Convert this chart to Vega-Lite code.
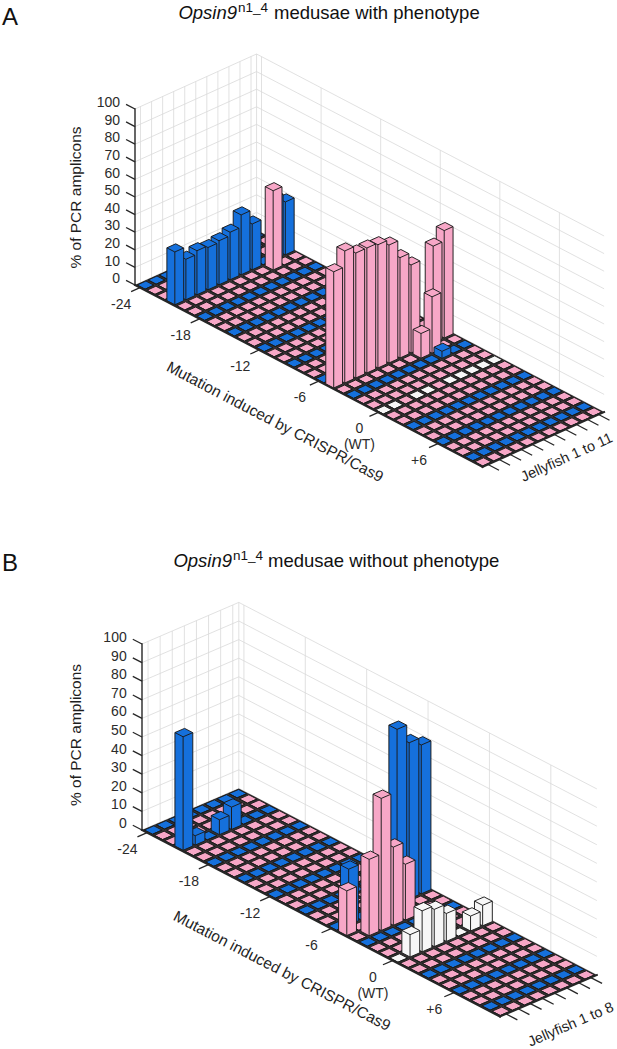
{
  "$schema": "https://vega.github.io/schema/vega-lite/v6.json",
  "width": 617,
  "height": 1049,
  "autosize": {"type": "none"},
  "padding": 0,
  "background": "white",
  "config": {"view": {"stroke": null}, "font": "Liberation Sans"},
  "params": [
    {
      "name": "G",
      "value": {
        "A": {"ox": 135, "oy": 285, "mx": 9.93, "my": 5.2, "jx": 11.05, "jy": 5, "zs": 1.76, "n": 11,
              "a": -8.39, "b": -0.08, "c": -0.45, "d": 4.08, "e": 8.39, "f": 0.08,
              "zt": [76, 197.5], "mt": [275, 422, 27.6], "jt": [567, 458, -24.3],
              "letter": [2, 25], "it": [237, 19], "sup": [238, 12], "rest": [274, 19]},
        "B": {"ox": 142, "oy": 830, "mx": 10.23, "my": 5.33, "jx": 12.1, "jy": 5.2, "zs": 1.86, "n": 8,
              "a": -8.93, "b": -0.05, "c": -0.75, "d": 4.21, "e": 8.93, "f": 0.05,
              "zt": [76, 735], "mt": [282, 971, 27.5], "jt": [571, 1025, -23.3],
              "letter": [2, 571], "it": [232, 567], "sup": [233, 560], "rest": [268, 567]}
      }
    }
  ],
  "datasets": {
    "panels": [{"p": "A"}, {"p": "B"}],
    "axes": [
      {"p": "A", "ax": "z"}, {"p": "A", "ax": "m"}, {"p": "A", "ax": "j"},
      {"p": "B", "ax": "z"}, {"p": "B", "ax": "m"}, {"p": "B", "ax": "j"}
    ],
    "ticks": [
      {"p": "A", "ax": "z", "v": [0, 10, 20, 30, 40, 50, 60, 70, 80, 90, 100]},
      {"p": "A", "ax": "m", "v": [-24, -18, -12, -6, 0, 6]},
      {"p": "A", "ax": "j", "v": [1, 2, 3, 4, 5, 6, 7, 8, 9, 10, 11]},
      {"p": "B", "ax": "z", "v": [0, 10, 20, 30, 40, 50, 60, 70, 80, 90, 100]},
      {"p": "B", "ax": "m", "v": [-24, -18, -12, -6, 0, 6]},
      {"p": "B", "ax": "j", "v": [1, 2, 3, 4, 5, 6, 7, 8]}
    ],
    "titles": [
      {"p": "A", "k": "zt", "t": "% of PCR amplicons"},
      {"p": "A", "k": "mt", "t": "Mutation induced by CRISPR/Cas9"},
      {"p": "A", "k": "jt", "t": "Jellyfish 1 to 11"},
      {"p": "B", "k": "zt", "t": "% of PCR amplicons"},
      {"p": "B", "k": "mt", "t": "Mutation induced by CRISPR/Cas9"},
      {"p": "B", "k": "jt", "t": "Jellyfish 1 to 8"},
      {"p": "A", "k": "letter", "t": "A"},
      {"p": "B", "k": "letter", "t": "B"},
      {"p": "A", "k": "it", "t": "Opsin9"},
      {"p": "B", "k": "it", "t": "Opsin9"},
      {"p": "A", "k": "sup", "t": "n1_4"},
      {"p": "B", "k": "sup", "t": "n1_4"},
      {"p": "A", "k": "rest", "t": "medusae with phenotype"},
      {"p": "B", "k": "rest", "t": "medusae without phenotype"}
    ],
    "cells": [
      {"p": "A", "m": -24, "v": [0,0,0,0,0,0,0,0,0,0,0]},
      {"p": "A", "m": -23, "v": [0,0,0,0,0,0,0,0,0,0,0]},
      {"p": "A", "m": -22, "v": [0,0,0,0,0,0,0,0,0,0,0]},
      {"p": "A", "m": -21, "v": [30,23,25,24,25,27,34,26,0,35,30]},
      {"p": "A", "m": -20, "v": [0,0,0,0,0,0,0,0,45,0,0]},
      {"p": "A", "m": -19, "v": [0,0,0,0,0,0,0,0,0,0,0]},
      {"p": "A", "m": -18, "v": [0,0,0,0,0,0,0,0,0,0,0]},
      {"p": "A", "m": -17, "v": [0,0,0,0,0,0,0,0,0,0,0]},
      {"p": "A", "m": -16, "v": [0,0,0,0,0,0,0,0,0,0,0]},
      {"p": "A", "m": -15, "v": [0,0,0,0,0,0,0,0,0,0,0]},
      {"p": "A", "m": -14, "v": [0,0,0,0,0,0,0,0,0,0,0]},
      {"p": "A", "m": -13, "v": [0,0,0,0,0,0,0,0,0,0,0]},
      {"p": "A", "m": -12, "v": [0,0,0,0,0,0,0,0,0,0,0]},
      {"p": "A", "m": -11, "v": [0,0,0,0,0,0,0,0,0,0,0]},
      {"p": "A", "m": -10, "v": [0,0,0,0,0,0,0,0,0,0,0]},
      {"p": "A", "m": -9, "v": [0,0,0,0,0,0,0,0,0,0,0]},
      {"p": "A", "m": -8, "v": [0,0,0,0,0,0,0,0,0,0,0]},
      {"p": "A", "m": -7, "v": [0,0,0,0,0,0,0,0,0,0,0]},
      {"p": "A", "m": -6, "v": [0,0,0,0,0,0,0,0,0,0,0]},
      {"p": "A", "m": -5, "v": [66,75,71,71,70,67,57,50,0,55,61]},
      {"p": "A", "m": -4, "v": [0,0,0,0,0,0,0,14,32,0,0]},
      {"p": "A", "m": -3, "v": [0,0,0,0,0,0,0,0,4,0,0]},
      {"p": "A", "m": -2, "v": [0,0,0,0,0,0,0,0,0,0,0]},
      {"p": "A", "m": -1, "v": [0,0,0,0,0,0,0,0,0,0,0]},
      {"p": "A", "m": 0, "v": [0,0,0,0,0,0,0,0,0,0,0], "wt": [1,1,0,1,1,0,1,1,1,1,1]},
      {"p": "A", "m": 1, "v": [0,0,0,0,0,0,0,0,0,0,0]},
      {"p": "A", "m": 2, "v": [0,0,0,0,0,0,0,0,0,0,0]},
      {"p": "A", "m": 3, "v": [0,0,0,0,0,0,0,0,0,0,0]},
      {"p": "A", "m": 4, "v": [0,0,0,0,0,0,0,0,0,0,0]},
      {"p": "A", "m": 5, "v": [0,0,0,0,0,0,0,0,0,0,0]},
      {"p": "A", "m": 6, "v": [0,0,0,0,0,0,0,0,0,0,0]},
      {"p": "A", "m": 7, "v": [0,0,0,0,0,0,0,0,0,0,0]},
      {"p": "A", "m": 8, "v": [0,0,0,0,0,0,0,0,0,0,0]},
      {"p": "A", "m": 9, "v": [0,0,0,0,0,0,0,0,0,0,0]},
      {"p": "A", "m": 10, "v": [0,0,0,0,0,0,0,0,0,0,0]},
      {"p": "B", "m": -24, "v": [0,0,0,0,0,0,0,0]},
      {"p": "B", "m": -23, "v": [0,0,0,0,0,0,0,0]},
      {"p": "B", "m": -22, "v": [0,0,0,0,0,0,0,0]},
      {"p": "B", "m": -21, "v": [61,5,0,8,12,0,0,0]},
      {"p": "B", "m": -20, "v": [0,0,0,0,0,0,0,0]},
      {"p": "B", "m": -19, "v": [0,0,0,0,0,0,0,0]},
      {"p": "B", "m": -18, "v": [0,0,0,0,0,0,0,0]},
      {"p": "B", "m": -17, "v": [0,0,0,0,0,0,0,0]},
      {"p": "B", "m": -16, "v": [0,0,0,0,0,0,0,0]},
      {"p": "B", "m": -15, "v": [0,0,0,0,0,0,0,0]},
      {"p": "B", "m": -14, "v": [0,0,0,0,0,0,0,0]},
      {"p": "B", "m": -13, "v": [0,0,0,0,0,0,0,0]},
      {"p": "B", "m": -12, "v": [0,0,0,0,0,0,0,0]},
      {"p": "B", "m": -11, "v": [0,0,0,0,0,0,0,0]},
      {"p": "B", "m": -10, "v": [0,0,0,0,0,0,0,0]},
      {"p": "B", "m": -9, "v": [0,0,0,0,0,0,0,0]},
      {"p": "B", "m": -8, "v": [0,0,0,0,0,0,0,0]},
      {"p": "B", "m": -7, "v": [0,0,0,0,0,0,0,0]},
      {"p": "B", "m": -6, "v": [0,30,0,0,0,94,84,80]},
      {"p": "B", "m": -5, "v": [24,0,0,0,0,0,0,0]},
      {"p": "B", "m": -4, "v": [0,41,71,42,30,0,0,0]},
      {"p": "B", "m": -3, "v": [0,0,0,0,0,0,0,0]},
      {"p": "B", "m": -2, "v": [0,0,0,0,0,0,0,0]},
      {"p": "B", "m": -1, "v": [0,0,0,0,0,0,0,0]},
      {"p": "B", "m": 0, "v": [0,12,22,20,15,0,8,11], "wt": [1,1,1,1,1,1,1,1]},
      {"p": "B", "m": 1, "v": [0,0,0,0,0,0,0,0]},
      {"p": "B", "m": 2, "v": [0,0,0,0,0,0,0,0]},
      {"p": "B", "m": 3, "v": [0,0,0,0,0,0,0,0]},
      {"p": "B", "m": 4, "v": [0,0,0,0,0,0,0,0]},
      {"p": "B", "m": 5, "v": [0,0,0,0,0,0,0,0]},
      {"p": "B", "m": 6, "v": [0,0,0,0,0,0,0,0]},
      {"p": "B", "m": 7, "v": [0,0,0,0,0,0,0,0]},
      {"p": "B", "m": 8, "v": [0,0,0,0,0,0,0,0]},
      {"p": "B", "m": 9, "v": [0,0,0,0,0,0,0,0]},
      {"p": "B", "m": 10, "v": [0,0,0,0,0,0,0,0]}
    ]
  },
  "encoding": {
    "x": {"field": "X", "type": "quantitative", "scale": {"domain": [0, 617], "nice": false, "zero": false}, "axis": null},
    "y": {"field": "Y", "type": "quantitative", "scale": {"domain": [0, 1049], "nice": false, "zero": false, "reverse": true}, "axis": null}
  },
  "layer": [
    {
      "data": {"name": "ticks"},
      "transform": [
        {"flatten": ["v"]},
        {"calculate": "G[datum.p]", "as": "g"},
        {"calculate": "datum.ax == 'm' ? datum.v : -24.5", "as": "M"},
        {"calculate": "datum.ax == 'j' ? datum.v : (datum.ax == 'm' ? datum.g.n + 0.5 : 0.5)", "as": "J"},
        {"calculate": "datum.ax == 'z' ? datum.v : 0", "as": "Z"},
        {"calculate": "datum.ax == 'j' ? datum.v : datum.g.n + 0.5", "as": "J2"},
        {"calculate": "datum.ax == 'z' ? datum.v : 100", "as": "Z2"},
        {"calculate": "datum.g.ox + (datum.M + 24.5) * datum.g.mx + (datum.J - 0.5) * datum.g.jx", "as": "X"},
        {"calculate": "datum.g.oy + (datum.M + 24.5) * datum.g.my - (datum.J - 0.5) * datum.g.jy - datum.Z * datum.g.zs", "as": "Y"},
        {"calculate": "datum.g.ox + (datum.M + 24.5) * datum.g.mx + (datum.J2 - 0.5) * datum.g.jx", "as": "X2"},
        {"calculate": "datum.g.oy + (datum.M + 24.5) * datum.g.my - (datum.J2 - 0.5) * datum.g.jy - datum.Z2 * datum.g.zs", "as": "Y2"}
      ],
      "mark": {"type": "rule", "color": "#d9d9d9", "strokeWidth": 0.8},
      "encoding": {"x2": {"field": "X2"}, "y2": {"field": "Y2"}}
    },
    {
      "data": {"name": "ticks"},
      "transform": [
        {"filter": "datum.ax == 'z'"},
        {"flatten": ["v"]},
        {"calculate": "G[datum.p]", "as": "g"},
        {"calculate": "datum.g.ox + (datum.g.n) * datum.g.jx", "as": "X"},
        {"calculate": "datum.g.oy - (datum.g.n) * datum.g.jy - datum.v * datum.g.zs", "as": "Y"},
        {"calculate": "datum.X + 35 * datum.g.mx", "as": "X2"},
        {"calculate": "datum.Y + 35 * datum.g.my", "as": "Y2"}
      ],
      "mark": {"type": "rule", "color": "#d9d9d9", "strokeWidth": 0.8},
      "encoding": {"x2": {"field": "X2"}, "y2": {"field": "Y2"}}
    },
    {
      "data": {"name": "panels"},
      "transform": [
        {"calculate": "G[datum.p]", "as": "g"},
        {"calculate": "datum.g.ox + datum.g.n * datum.g.jx", "as": "X"},
        {"calculate": "datum.g.oy - datum.g.n * datum.g.jy", "as": "Y"},
        {"calculate": "datum.X", "as": "X2"},
        {"calculate": "datum.Y - 100 * datum.g.zs", "as": "Y2"}
      ],
      "mark": {"type": "rule", "color": "#d9d9d9", "strokeWidth": 0.8},
      "encoding": {"x2": {"field": "X2"}, "y2": {"field": "Y2"}}
    },
    {
      "data": {"name": "panels"},
      "transform": [
        {"calculate": "G[datum.p]", "as": "g"},
        {"calculate": "datum.g.ox", "as": "X"},
        {"calculate": "datum.g.oy", "as": "Y"},
        {"calculate": "'M0,0L' + (35 * datum.g.mx) + ',' + (35 * datum.g.my) + 'L' + (35 * datum.g.mx + datum.g.n * datum.g.jx) + ',' + (35 * datum.g.my - datum.g.n * datum.g.jy) + 'L' + (datum.g.n * datum.g.jx) + ',' + (-datum.g.n * datum.g.jy) + 'Z'", "as": "path"}
      ],
      "mark": {"type": "point", "filled": true, "size": 4, "opacity": 1, "fill": "#363333", "strokeWidth": 0},
      "encoding": {"shape": {"field": "path", "type": "nominal", "scale": null}}
    },
    {
      "data": {"name": "cells"},
      "transform": [
        {"flatten": ["v"]},
        {"window": [{"op": "row_number", "as": "j"}], "groupby": ["p", "m"]},
        {"calculate": "G[datum.p]", "as": "g"},
        {"calculate": "datum.m == 0 ? (datum.wt[datum.j - 1] ? 'w' : 'p') : (datum.m % 3 == 0 ? 'b' : 'p')", "as": "cls"},
        {"calculate": "datum.g.ox + (datum.m + 24.5) * datum.g.mx + (datum.j - 0.5) * datum.g.jx", "as": "X"},
        {"calculate": "datum.g.oy + (datum.m + 24.5) * datum.g.my - (datum.j - 0.5) * datum.g.jy", "as": "Y"},
        {"calculate": "round(datum.v * datum.g.zs * 100) / 100", "as": "h"},
        {"calculate": "(datum.v > 0 ? 1000 : 0) + datum.m - datum.j", "as": "ord"},
        {"calculate": "'M' + datum.g.a + ',' + datum.g.b + 'L' + datum.g.c + ',' + datum.g.d + 'L' + datum.g.e + ',' + datum.g.f + 'L' + datum.g.e + ',' + (datum.g.f - datum.h) + 'L' + (-datum.g.c) + ',' + (-datum.g.d - datum.h) + 'L' + datum.g.a + ',' + (datum.g.b - datum.h) + 'Z' + 'M' + datum.g.a + ',' + (datum.g.b - datum.h) + 'L' + datum.g.c + ',' + (datum.g.d - datum.h) + 'L' + datum.g.e + ',' + (datum.g.f - datum.h) + 'M' + datum.g.c + ',' + (datum.g.d - datum.h) + 'L' + datum.g.c + ',' + datum.g.d", "as": "path"}
      ],
      "mark": {"type": "point", "filled": true, "size": 4, "opacity": 1, "stroke": "#1a1a1a", "strokeWidth": 0.95, "strokeJoin": "miter"},
      "encoding": {
        "shape": {"field": "path", "type": "nominal", "scale": null},
        "fill": {"field": "cls", "type": "nominal", "scale": {"domain": ["b", "p", "w"], "range": ["#1570dc", "#f7a7c7", "#f7f7f7"]}, "legend": null},
        "order": {"field": "ord", "type": "quantitative"}
      }
    },
    {
      "data": {"name": "axes"},
      "transform": [
        {"calculate": "G[datum.p]", "as": "g"},
        {"calculate": "datum.ax == 'j' ? 10.5 : -24.5", "as": "M"},
        {"calculate": "datum.ax == 'm' ? 10.5 : datum.M", "as": "M2"},
        {"calculate": "datum.ax == 'j' ? datum.g.n + 0.5 : 0.5", "as": "J2"},
        {"calculate": "datum.ax == 'z' ? 100 : 0", "as": "Z2"},
        {"calculate": "datum.g.ox + (datum.M + 24.5) * datum.g.mx", "as": "X"},
        {"calculate": "datum.g.oy + (datum.M + 24.5) * datum.g.my", "as": "Y"},
        {"calculate": "datum.g.ox + (datum.M2 + 24.5) * datum.g.mx + (datum.J2 - 0.5) * datum.g.jx", "as": "X2"},
        {"calculate": "datum.g.oy + (datum.M2 + 24.5) * datum.g.my - (datum.J2 - 0.5) * datum.g.jy - datum.Z2 * datum.g.zs", "as": "Y2"}
      ],
      "mark": {"type": "rule", "color": "#262626", "strokeCap": "square"},
      "encoding": {
        "x2": {"field": "X2"},
        "y2": {"field": "Y2"},
        "strokeWidth": {"condition": {"test": "datum.ax == 'z'", "value": 1.4}, "value": 2}
      }
    },
    {
      "data": {"name": "ticks"},
      "transform": [
        {"flatten": ["v"]},
        {"calculate": "G[datum.p]", "as": "g"},
        {"calculate": "datum.ax == 'm' ? datum.v : (datum.ax == 'z' ? -24.5 : 10.5)", "as": "M"},
        {"calculate": "datum.ax == 'j' ? datum.v : 0.5", "as": "J"},
        {"calculate": "datum.ax == 'z' ? datum.v : 0", "as": "Z"},
        {"calculate": "datum.ax == 'z' ? -25.4 : (datum.ax == 'm' ? datum.v : 11.6)", "as": "M2"},
        {"calculate": "datum.ax == 'm' ? -0.3 : datum.J", "as": "J2"},
        {"calculate": "datum.g.ox + (datum.M + 24.5) * datum.g.mx + (datum.J - 0.5) * datum.g.jx", "as": "X"},
        {"calculate": "datum.g.oy + (datum.M + 24.5) * datum.g.my - (datum.J - 0.5) * datum.g.jy - datum.Z * datum.g.zs", "as": "Y"},
        {"calculate": "datum.g.ox + (datum.M2 + 24.5) * datum.g.mx + (datum.J2 - 0.5) * datum.g.jx", "as": "X2"},
        {"calculate": "datum.g.oy + (datum.M2 + 24.5) * datum.g.my - (datum.J2 - 0.5) * datum.g.jy - datum.Z * datum.g.zs", "as": "Y2"}
      ],
      "mark": {"type": "rule", "color": "#262626", "strokeWidth": 1.3},
      "encoding": {"x2": {"field": "X2"}, "y2": {"field": "Y2"}}
    },
    {
      "data": {"name": "ticks"},
      "transform": [
        {"filter": "datum.ax == 'z'"},
        {"flatten": ["v"]},
        {"calculate": "G[datum.p]", "as": "g"},
        {"calculate": "datum.g.ox - 1.3 * datum.g.mx", "as": "X"},
        {"calculate": "datum.g.oy - 1.3 * datum.g.my - datum.v * datum.g.zs", "as": "Y"},
        {"calculate": "'' + datum.v", "as": "lab"}
      ],
      "mark": {"type": "text", "align": "right", "baseline": "middle", "fontSize": 14, "color": "#2b2b2b", "dx": -2, "dy": 1},
      "encoding": {"text": {"field": "lab"}}
    },
    {
      "data": {"name": "ticks"},
      "transform": [
        {"filter": "datum.ax == 'm'"},
        {"flatten": ["v"]},
        {"calculate": "G[datum.p]", "as": "g"},
        {"calculate": "datum.g.ox + (datum.v + 24.5) * datum.g.mx - 0.8 * datum.g.jx", "as": "X"},
        {"calculate": "datum.g.oy + (datum.v + 24.5) * datum.g.my + 0.8 * datum.g.jy", "as": "Y"},
        {"calculate": "datum.v > 0 ? '+' + datum.v : (datum.v == 0 ? '0~(WT)' : '' + datum.v)", "as": "lab"}
      ],
      "mark": {"type": "text", "align": "center", "baseline": "top", "fontSize": 14, "color": "#2b2b2b", "dx": -10, "dy": 6, "lineBreak": "~", "lineHeight": 16},
      "encoding": {"text": {"field": "lab"}}
    },
    {
      "data": {"name": "titles"},
      "transform": [
        {"filter": "datum.k == 'zt' || datum.k == 'mt' || datum.k == 'jt'"},
        {"calculate": "G[datum.p]", "as": "g"},
        {"calculate": "datum.g[datum.k][0]", "as": "X"},
        {"calculate": "datum.g[datum.k][1]", "as": "Y"},
        {"calculate": "datum.k == 'zt' ? -90 : datum.g[datum.k][2]", "as": "ang"}
      ],
      "mark": {"type": "text", "align": "center", "baseline": "middle", "color": "#1e1e1e"},
      "encoding": {
        "text": {"field": "t"},
        "angle": {"field": "ang", "type": "quantitative", "scale": null},
        "size": {"condition": {"test": "datum.k == 'jt'", "value": 14.5}, "value": 15.5}
      }
    },
    {
      "data": {"name": "titles"},
      "transform": [
        {"filter": "datum.k == 'letter'"},
        {"calculate": "G[datum.p]", "as": "g"},
        {"calculate": "datum.g.letter[0]", "as": "X"},
        {"calculate": "datum.g.letter[1]", "as": "Y"}
      ],
      "mark": {"type": "text", "align": "left", "baseline": "alphabetic", "fontSize": 24, "color": "#111"},
      "encoding": {"text": {"field": "t"}}
    },
    {
      "data": {"name": "titles"},
      "transform": [
        {"filter": "datum.k == 'it'"},
        {"calculate": "G[datum.p]", "as": "g"},
        {"calculate": "datum.g.it[0]", "as": "X"},
        {"calculate": "datum.g.it[1]", "as": "Y"}
      ],
      "mark": {"type": "text", "align": "right", "baseline": "alphabetic", "fontSize": 18.5, "fontStyle": "italic", "color": "#111"},
      "encoding": {"text": {"field": "t"}}
    },
    {
      "data": {"name": "titles"},
      "transform": [
        {"filter": "datum.k == 'sup'"},
        {"calculate": "G[datum.p]", "as": "g"},
        {"calculate": "datum.g.sup[0]", "as": "X"},
        {"calculate": "datum.g.sup[1]", "as": "Y"}
      ],
      "mark": {"type": "text", "align": "left", "baseline": "alphabetic", "fontSize": 13.5, "color": "#111"},
      "encoding": {"text": {"field": "t"}}
    },
    {
      "data": {"name": "titles"},
      "transform": [
        {"filter": "datum.k == 'rest'"},
        {"calculate": "G[datum.p]", "as": "g"},
        {"calculate": "datum.g.rest[0]", "as": "X"},
        {"calculate": "datum.g.rest[1]", "as": "Y"}
      ],
      "mark": {"type": "text", "align": "left", "baseline": "alphabetic", "fontSize": 18.5, "color": "#111"},
      "encoding": {"text": {"field": "t"}}
    }
  ]
}
